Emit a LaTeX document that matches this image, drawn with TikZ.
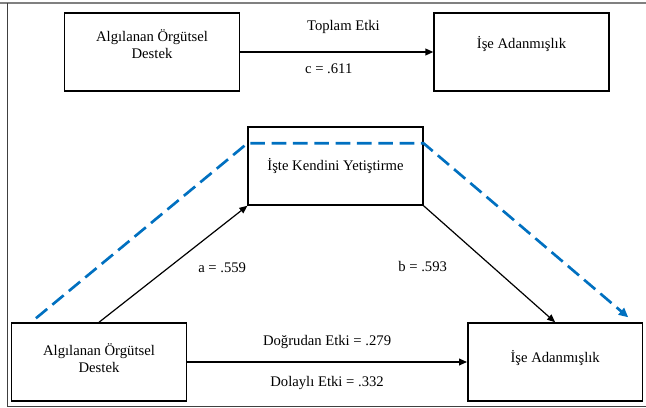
\documentclass[tikz,border=0pt]{standalone}
\usepackage{fontspec}
\setmainfont{Liberation Serif}
\usetikzlibrary{arrows.meta, positioning, calc}

\begin{document}
\begin{tikzpicture}[
    x = 0.75pt, y = -0.75pt,
    every node/.style = {font=\fontsize{11}{12.5}\selectfont},
    box/.style = {
        rectangle, draw, line width=1.1pt,
        minimum width=131pt, minimum height=58.5pt,
        align=center
    },
    lift/.style = {text depth=#1},
    arr/.style = {
        -{Triangle[length=6pt,width=5pt]},
        line width=0.9pt
    },
    indirect/.style = {
        -{Triangle[length=7pt,width=6.5pt]},
        line width=2pt, color={rgb,255:red,0;green,112;blue,192},
        dash pattern=on 11pt off 5pt
    },
    lbl/.style = {font=\fontsize{11}{12.5}\selectfont}
]
\useasboundingbox (0,0) rectangle (646,407);

%% Frame
\draw[gray, line width=1.5pt] (0,3) -- (646,3);
\draw[black!75, line width=0.6pt] (7,3) -- (7,406) -- (646,406);

%% Total effect
\node[box, lift=12pt]                   (tl) at (152,52) {Algılanan Örgütsel\\Destek};
\node[box, lift=14pt, right=145pt of tl] (tr)            {İşe Adanmışlık};

%% Mediation model
\node[box]                               (med) at (335.5,166) {İşte Kendini Yetiştirme};
\node[box, lift=6pt]                     (bl)  at (99,362)    {Algılanan Örgütsel\\Destek};
\node[box, lift=8pt, right=210pt of bl]  (br)                 {İşe Adanmışlık};

%% Arrows
\draw[arr, line width=1.2pt] (tl.east) -- (tr.west)
    node[lbl, midway, above=9.5pt, xshift=5pt] {Toplam Etki}
    node[lbl, midway, below=5pt, xshift=-6pt]  {c = .611};
\draw[arr] (bl.north) -- (med.south west)
    node[lbl, midway, right=15pt, yshift=-3pt] {a = .559};
\draw[arr] (med.south east) -- (br.north)
    node[lbl, midway, left=28pt, yshift=-2pt] {b = .593};
\draw[arr, line width=1.2pt] (bl.east) -- (br.west)
    node[lbl, midway, above=6pt] {Doğrudan Etki = .279}
    node[lbl, midway, below=7pt] {Dolaylı Etki = .332};

%% Indirect path
\draw[indirect]
    ($(bl.north west)+(25,-4)$) -- ($(med.north west)+(0,17)$)
    -- ($(med.north east)+(0,17)$) -- ($(br.north east)+(-15,-5)$);

\end{tikzpicture}
\end{document}
